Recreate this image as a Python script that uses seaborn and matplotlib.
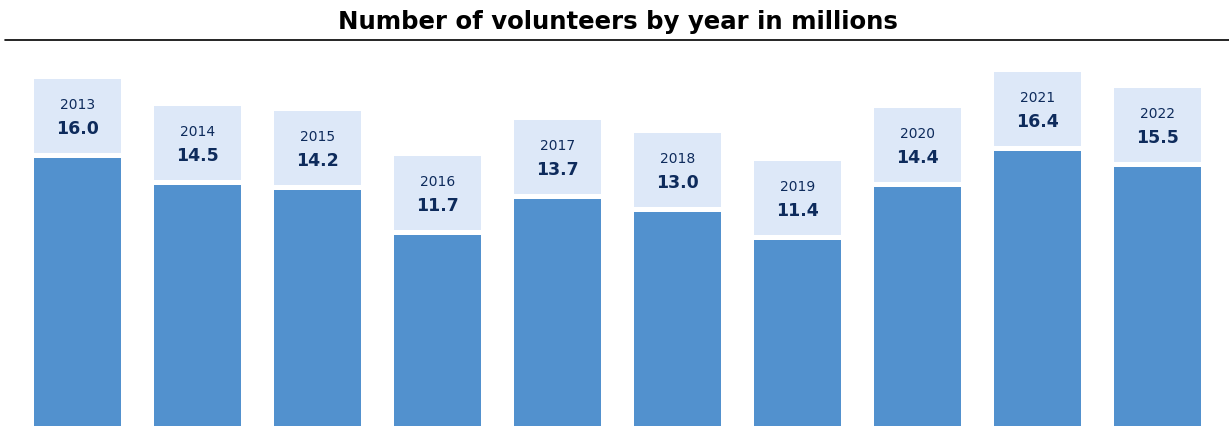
import matplotlib
matplotlib.use('Agg')
import matplotlib.pyplot as plt
import seaborn as sns
import pandas as pd
from matplotlib.patches import Rectangle

sns.set_style('white')
plt.rcParams['font.family'] = ['DejaVu Sans']

# dados
years = ['2013', '2014', '2015', '2016', '2017', '2018', '2019', '2020', '2021', '2022']
volunteers = [16.0, 14.5, 14.2, 11.7, 13.7, 13.0, 11.4, 14.4, 16.4, 15.5]
title = 'Number of volunteers by year in millions'

bar_color = '#5291CE'
box_color = '#DDE8F8'
text_color = '#0E2B5C'

df = pd.DataFrame({'year': years, 'value': volunteers})

fig = plt.figure(figsize=(12.29, 4.26), dpi=100)
ax = fig.add_axes([0, 0, 1, 1])
sns.barplot(data=df, x='year', y='value', color=bar_color, width=0.725,
            saturation=1, linewidth=0, ax=ax)

px = 1 / 17.8  # unidades de dados por pixel (vertical)
ax.set_ylim(0.955, 0.955 + 426 * px)
ax.set_xlim(-77.5 / 120, (1229 - 77.5) / 120)
ax.axis('off')

# caixas com ano e valor
for i, (yr, v) in enumerate(zip(years, volunteers)):
    b0 = v + 5 * px
    h = 74 * px
    ax.add_patch(Rectangle((i - 0.3625, b0), 0.725, h, color=box_color, lw=0))
    top = b0 + h
    ax.text(i, top - 26 * px, yr, ha='center', va='center', fontsize=10,
            color=text_color)
    ax.text(i, top - 50 * px, f'{v:.1f}', ha='center', va='center',
            fontsize=12.5, fontweight='bold', color=text_color)

fig.text(618 / 1229, 1 - 22 / 426, title, ha='center', va='center',
         fontsize=17.6, fontweight='bold', color='black')
fig.add_artist(plt.Line2D([5 / 1229, 1], [1 - 40 / 426] * 2, color='black', lw=1.2))

fig.savefig('out.png', dpi=100)
